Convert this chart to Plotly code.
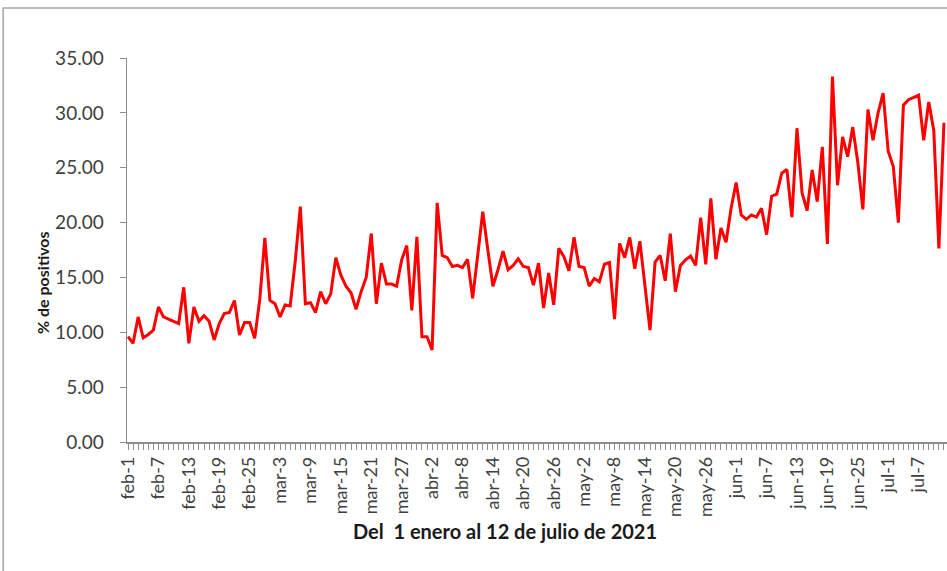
import plotly.graph_objects as go

# Daily % of positive tests, 1 Feb - 12 Jul 2021 (index 0 = feb-1)
positivos = [
    9.6, 9.0, 11.4, 9.5, 9.8, 10.2, 12.3, 11.4, 11.2, 11.0,
    10.8, 14.1, 9.0, 12.3, 11.0, 11.5, 11.0, 9.3, 10.8, 11.7,
    11.8, 12.9, 9.75, 10.9, 10.9, 9.45, 13.0, 18.6, 12.9, 12.6,
    11.4, 12.5, 12.4, 16.5, 21.45, 12.6, 12.7, 11.8, 13.7, 12.6,
    13.5, 16.8, 15.2, 14.2, 13.6, 12.1, 13.7, 15.0, 19.0, 12.6,
    16.3, 14.4, 14.4, 14.2, 16.6, 17.9, 12.0, 18.7, 9.6, 9.6,
    8.4, 21.8, 17.0, 16.8, 16.0, 16.1, 15.9, 16.65, 13.1, 17.0,
    21.0, 17.5, 14.2, 15.7, 17.4, 15.7, 16.1, 16.7, 16.0, 15.9,
    14.3, 16.3, 12.2, 15.4, 12.5, 17.65, 16.9, 15.6, 18.65, 16.0,
    15.9, 14.2, 14.9, 14.6, 16.2, 16.35, 11.2, 18.1, 16.8, 18.65,
    15.8, 18.3, 14.0, 10.2, 16.4, 17.0, 14.7, 19.0, 13.7, 16.1,
    16.6, 16.95, 16.1, 20.45, 16.2, 22.2, 16.65, 19.5, 18.2, 21.3,
    23.65, 20.7, 20.3, 20.7, 20.5, 21.3, 18.9, 22.4, 22.6, 24.5,
    24.85, 20.5, 28.6, 22.7, 21.1, 24.8, 21.9, 26.9, 18.05, 33.3,
    23.4, 27.8, 26.0, 28.7, 25.5, 21.2, 30.3, 27.5, 30.0, 31.8,
    26.5, 25.1, 20.0, 30.7, 31.2, 31.4, 31.6, 27.5, 31.0, 28.4,
    17.65, 29.1,
]
dias = list(range(len(positivos)))

tick_labels = [
    "feb-1", "feb-7", "feb-13", "feb-19", "feb-25", "mar-3", "mar-9",
    "mar-15", "mar-21", "mar-27", "abr-2", "abr-8", "abr-14", "abr-20",
    "abr-26", "may-2", "may-8", "may-14", "may-20", "may-26", "jun-1",
    "jun-7", "jun-13", "jun-19", "jun-25", "jul-1", "jul-7",
]
tick_pos = [i * 6 for i in range(len(tick_labels))]

y_ticks = [0, 5, 10, 15, 20, 25, 30, 35]

FONT = "Lato"
TXT = "#404040"
AX = "#8c8c8c"

fig = go.Figure()
fig.add_trace(go.Scatter(
    x=dias, y=positivos, mode="lines",
    line=dict(color="#ff0000", width=3),
    hoverinfo="skip",
))

fig.update_layout(
    width=947, height=571,
    margin=dict(l=127, r=0, t=58, b=129),
    paper_bgcolor="white", plot_bgcolor="white",
    showlegend=False,
    font=dict(family=FONT, size=16, color=TXT),
    xaxis=dict(
        range=[-0.2, 161.6],
        tickmode="array", tickvals=tick_pos, ticktext=tick_labels,
        tickangle=-90, ticks="outside", ticklen=6, tickcolor=AX,
        tickfont=dict(family=FONT, size=18, color=TXT),
        showline=True, linecolor=AX, linewidth=1.5,
        showgrid=False, zeroline=False,
        minor=dict(tickmode="linear", tick0=0, dtick=1, ticks="outside",
                   ticklen=6, tickcolor=AX, showgrid=False),
    ),
    yaxis=dict(
        range=[0, 35], tickmode="array", tickvals=y_ticks,
        tickformat=".2f",
        ticks="outside", ticklen=6, tickcolor=AX,
        tickfont=dict(family=FONT, size=19, color=TXT),
        ticklabelstandoff=12,
        showline=True, linecolor=AX, linewidth=1.5,
        showgrid=False, zeroline=False,
    ),
    shapes=[dict(type="rect", xref="paper", yref="paper",
                 x0=-0.151, x1=1.05, y0=-0.4, y1=1.13,
                 line=dict(color="#a6a6a6", width=1.5), layer="below")],
    annotations=[
        dict(text="<b>Del\u00a0 1 enero al 12 de julio de 2021</b>",
             xref="paper", yref="paper", x=(505 - 127) / 820,
             y=(442 - 531) / 384, showarrow=False,
             font=dict(family=FONT, size=20, color="#1a1a1a"),
             xanchor="center", yanchor="middle"),
        dict(text="<b>% de positivos</b>", textangle=-90,
             xref="paper", yref="paper", x=(42 - 127) / 820,
             y=(442 - 283) / 384, showarrow=False,
             font=dict(family=FONT, size=16, color="#1a1a1a"),
             xanchor="center", yanchor="middle"),
    ],
)

fig.write_html(
    "out.html",
    config={"displayModeBar": False, "staticPlot": True},
    post_script="document.body.style.margin='0';"
                "document.body.style.overflow='hidden';",
)
